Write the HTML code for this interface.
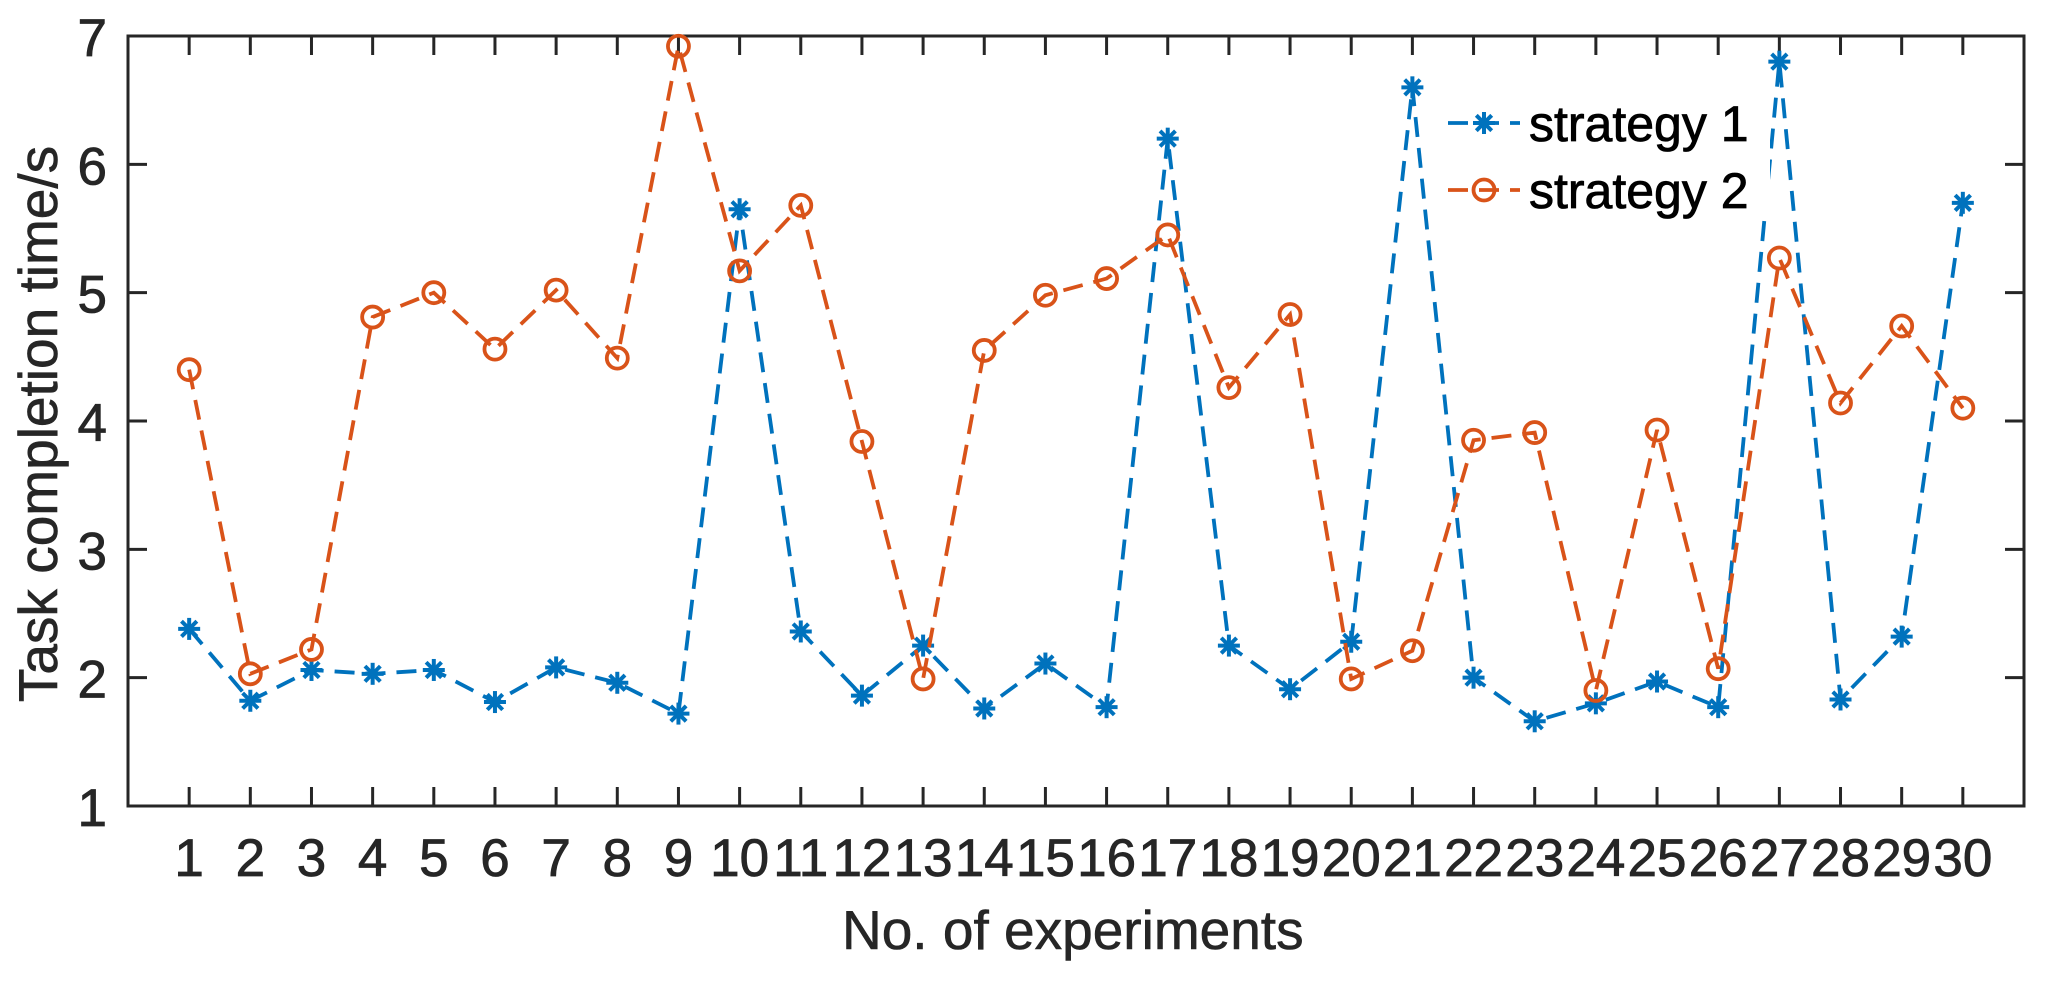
<!DOCTYPE html>
<html><head><meta charset="utf-8"><style>
html,body{margin:0;padding:0;background:#fff;}
svg{display:block;font-family:"Liberation Sans",Arial,sans-serif;}
</style></head><body>
<svg id="s" width="2050" height="982" xmlns="http://www.w3.org/2000/svg"></svg>
<script>
const s1=[2.38,1.82,2.06,2.03,2.06,1.81,2.08,1.96,1.72,5.65,2.36,1.86,2.25,1.76,2.11,1.77,6.2,2.25,1.91,2.28,6.6,2.0,1.66,1.8,1.97,1.77,6.8,1.83,2.32,5.7];
const s2=[4.4,2.03,2.22,4.81,5.0,4.56,5.02,4.49,6.92,5.17,5.68,3.84,1.99,4.55,4.98,5.11,5.45,4.26,4.83,1.99,2.21,3.85,3.91,1.9,3.93,2.07,5.27,4.14,4.74,4.1];
const L=128,R=2024,T=36,B=806;
const X=i=>L+(R-L)*i/31, Y=v=>B-(B-T)*(v-1)/6;
let h='';
const ax='#262626',c1='#0072BD',c2='#D95319';
function star(x,y,c){let r=11,d=r*0.7;return `<g stroke="${c}" stroke-width="4"><line x1="${x-r}" y1="${y}" x2="${x+r}" y2="${y}"/><line x1="${x}" y1="${y-r}" x2="${x}" y2="${y+r}"/><line x1="${x-d}" y1="${y-d}" x2="${x+d}" y2="${y+d}"/><line x1="${x-d}" y1="${y+d}" x2="${x+d}" y2="${y-d}"/></g>`;}
function circ(x,y,c){return `<circle cx="${x}" cy="${y}" r="10.5" fill="none" stroke="${c}" stroke-width="3.8"/>`;}
h+=`<rect x="${L}" y="${T}" width="${R-L}" height="${B-T}" fill="none" stroke="${ax}" stroke-width="3"/>`;
for(let i=1;i<=30;i++){let x=X(i);h+=`<line x1="${x}" y1="${B}" x2="${x}" y2="${B-19}" stroke="${ax}" stroke-width="3"/><line x1="${x}" y1="${T}" x2="${x}" y2="${T+19}" stroke="${ax}" stroke-width="3"/>`;
h+=`<text x="${x}" y="876" font-size="53" text-anchor="middle" fill="${ax}" stroke="${ax}" stroke-width="0.8">${i}</text>`;}
for(let v=1;v<=7;v++){let y=Y(v);h+=`<line x1="${L}" y1="${y}" x2="${L+19}" y2="${y}" stroke="${ax}" stroke-width="3"/><line x1="${R}" y1="${y}" x2="${R-19}" y2="${y}" stroke="${ax}" stroke-width="3"/>`;
h+=`<text x="107" y="${y+20}" font-size="53" text-anchor="end" fill="${ax}" stroke="${ax}" stroke-width="0.8">${v}</text>`;}
h+=`<text x="842" y="949" font-size="55" fill="${ax}" stroke="${ax}" stroke-width="0.6">No. of experiments</text>`;
h+=`<text transform="translate(57,424) rotate(-90)" font-size="55" text-anchor="middle" fill="${ax}" stroke="${ax}" stroke-width="0.6">Task completion time/s</text>`;
function series(d,c,m){let p=d.map((v,i)=>X(i+1)+','+Y(v)).join(' ');
let o=`<polyline points="${p}" fill="none" stroke="${c}" stroke-width="3.8" stroke-dasharray="20 11"/>`;
d.forEach((v,i)=>o+=m(X(i+1),Y(v),c));return o;}
h+=series(s1,c1,star)+series(s2,c2,circ);
h+=`<rect x="1440" y="95" width="330" height="122" fill="#fff"/>`;
h+=`<line x1="1448" y1="123" x2="1520" y2="123" stroke="${c1}" stroke-width="3.8" stroke-dasharray="20 11"/>`+star(1484,123,c1);
h+=`<line x1="1448" y1="190" x2="1520" y2="190" stroke="${c2}" stroke-width="3.8" stroke-dasharray="20 11"/>`+circ(1484,190,c2);
h+=`<text x="1529" y="141" font-size="50" stroke="#000" stroke-width="0.8" fill="#000">strategy 1</text>`;
h+=`<text x="1529" y="208" font-size="50" stroke="#000" stroke-width="0.8" fill="#000">strategy 2</text>`;
document.getElementById('s').innerHTML=h;
</script>
</body></html>
